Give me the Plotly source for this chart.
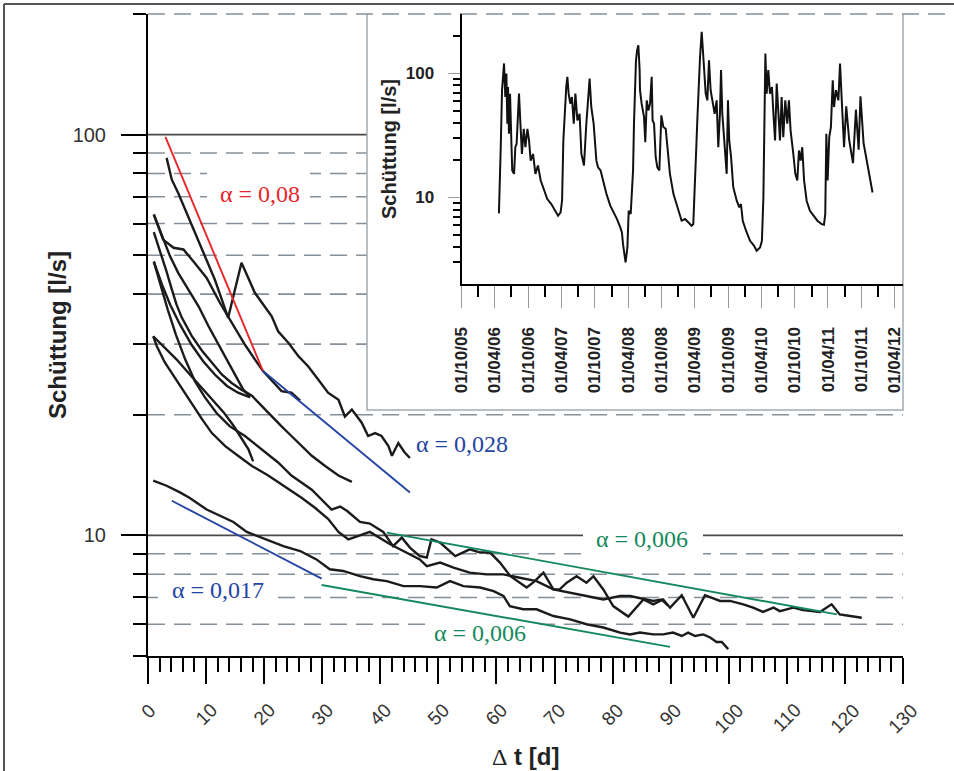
import math
import pandas as pd
import plotly.graph_objects as go

# ---------------- main panel: recession limbs (Δt [d], Schüttung [l/s]) ----------------
curve_a_dt = [3.2, 4.1, 5.2, 6.4, 8.1, 9.8, 11.5, 12.7, 13.8, 14.7, 16.1, 18.4, 19.6, 21.3, 22.4, 24.2,
              25.9, 27.6, 29.3, 31.0, 32.8, 33.9, 35.1, 36.8, 37.9, 39.1, 40.2, 41.4, 42.0, 43.1, 44.2, 45.1]
curve_a_q = [87.5, 77.2, 71.5, 65.0, 56.9, 49.7, 43.5, 38.8, 34.9, 39.5, 47.9, 40.3, 38.0, 35.2, 32.3, 30.2,
             28.0, 26.4, 24.5, 22.7, 21.8, 19.8, 20.6, 19.1, 17.7, 18.0, 17.7, 16.7, 15.8, 17.0, 16.1, 15.6]

curve_b_dt = [1.0, 2.1, 3.2, 4.1, 4.9, 5.8, 7.5, 9.3, 11.0, 12.7, 14.4, 16.1, 17.9, 19.6, 21.3, 23.0,
              24.7, 26.5, 28.2, 30.5, 32.8, 35.1]
curve_b_q = [57.1, 51.1, 45.5, 41.1, 37.7, 35.0, 31.5, 28.9, 27.0, 25.2, 24.0, 23.1, 22.3, 21.0, 19.8, 18.7,
             17.7, 16.7, 15.8, 14.9, 14.1, 13.6]

curve_c1_dt = [0.9, 1.5, 2.9, 5.2, 7.5, 9.3, 11.0, 13.3, 15.5, 17.9, 20.7, 23.6, 26.5, 28.8, 31.0, 32.8,
               34.5, 36.0, 38.2, 41.7, 44.0, 46.8, 48.0, 50.3, 52.6, 55.4, 58.3, 61.2, 64.0, 66.9, 69.8,
               72.7, 75.5, 78.4, 81.3, 83.0, 85.9, 87.0, 88.4, 89.5]
curve_c1_q = [31.4, 29.7, 27.0, 24.0, 21.4, 19.5, 18.0, 16.7, 15.8, 14.9, 14.1, 13.2, 12.4, 11.7, 11.0, 10.2,
              9.77, 9.94, 10.2, 9.50, 9.14, 8.71, 8.38, 8.55, 8.31, 8.07, 7.99, 7.99, 7.84, 7.69, 7.33,
              7.20, 7.06, 6.92, 7.06, 7.06, 6.92, 6.86, 6.92, 6.69]

curve_c2_dt = [1.0, 2.1, 3.4, 4.8, 6.4, 8.1, 9.8, 11.8, 14.1, 16.7, 19.6, 22.4, 24.7, 28.2, 31.6, 33.1,
               34.3, 36.5, 38.2, 40.5, 42.2, 43.7, 45.1, 46.8, 48.0, 48.8, 50.3, 52.9, 55.4, 57.2, 58.9,
               60.6, 62.4, 64.0, 65.2, 66.3, 68.1, 69.8, 70.9, 72.1, 73.8, 75.5, 76.7, 78.4, 80.1, 82.7,
               85.3, 87.0, 88.7, 89.9, 91.9, 93.9, 95.9, 98.5, 100.2, 102.5, 104.2, 105.9, 107.7, 108.8,
               111.1, 112.8, 114.5, 115.7, 117.7, 119.1, 120.9, 122.9]
curve_c2_q = [48.2, 42.3, 36.6, 31.7, 27.5, 24.2, 22.1, 20.2, 18.7, 17.7, 16.4, 15.2, 14.1, 13.0, 11.6, 11.8,
              11.5, 10.8, 10.7, 10.2, 9.40, 9.87, 9.32, 8.88, 8.80, 9.77, 9.59, 8.88, 9.23, 9.06, 9.06,
              8.55, 7.91, 7.62, 7.41, 7.62, 8.07, 7.33, 7.33, 7.62, 7.91, 7.62, 7.91, 7.33, 6.66, 6.27,
              6.92, 6.73, 6.92, 6.60, 7.09, 6.23, 7.09, 6.86, 6.86, 6.73, 6.60, 6.44, 6.60, 6.47,
              6.60, 6.51, 6.47, 6.44, 6.73, 6.35, 6.29, 6.23]

curve_d_dt = [0.9, 3.2, 5.5, 7.2, 10.1, 12.4, 14.7, 17.0, 20.4, 23.3, 26.2, 29.0, 31.3, 33.6, 36.5, 38.8,
              41.1, 44.0, 46.8, 49.7, 52.0, 54.3, 57.2, 59.5, 61.2, 62.3, 64.6, 66.9, 69.8, 72.7, 75.5,
              78.4, 81.3, 83.0, 84.7, 87.0, 88.7, 90.4, 91.9, 93.0, 94.2, 95.6, 96.8, 97.9, 98.8, 99.9]
curve_d_q = [13.7, 13.3, 12.8, 12.4, 11.6, 11.2, 10.8, 10.2, 9.77, 9.40, 9.14, 8.71, 8.23, 8.15, 7.91, 7.77,
             7.69, 7.47, 7.47, 7.41, 7.69, 7.47, 7.41, 7.26, 7.06, 6.66, 6.54, 6.54, 6.29, 6.17, 6.00,
             5.89, 5.72, 5.66, 5.72, 5.66, 5.66, 5.72, 5.61, 5.72, 5.61, 5.66, 5.56, 5.42, 5.42, 5.20]

curve_e_dt = [1.0, 2.6, 4.4, 6.1, 7.8, 10.1, 12.4, 14.6, 16.7, 18.4, 19.8, 23.0, 24.7, 26.2]
curve_e_q = [63.2, 54.7, 52.2, 51.7, 48.3, 43.9, 38.0, 33.6, 29.9, 27.5, 25.7, 22.9, 22.7, 21.7]

curve_f_dt = [1.0, 2.4, 3.8, 5.2, 6.9, 8.7, 10.4, 12.4, 14.5, 16.4, 17.6]
curve_f_q = [63.2, 55.8, 49.7, 45.2, 41.1, 37.3, 33.3, 29.4, 25.9, 23.1, 22.2]

curve_g_dt = [1.0, 2.4, 3.8, 5.5, 7.5, 9.5, 11.5, 13.6, 15.5, 17.6]
curve_g_q = [48.2, 42.3, 37.7, 33.6, 29.9, 27.2, 25.2, 23.6, 22.7, 22.1]

curve_h_dt = [0.9, 3.5, 4.9, 6.9, 9.0, 11.0, 13.0, 14.7, 16.1, 17.3, 18.1]
curve_h_q = [31.4, 28.8, 27.5, 25.5, 23.6, 21.8, 20.3, 18.8, 17.4, 16.4, 15.3]

# recession fits
fit_red_dt, fit_red_q = [3.0, 19.8], [98.7, 25.7]
fit_blue1_dt, fit_blue1_q = [19.8, 45.1], [25.7, 12.8]
fit_blue2_dt, fit_blue2_q = [4.1, 29.9], [12.2, 7.8]
fit_green1_dt, fit_green1_q = [41.1, 118.6], [10.16, 6.35]
fit_green2_dt, fit_green2_q = [29.9, 89.9], [7.52, 5.27]

fit_labels = ["α = 0,08", "α = 0,028", "α = 0,017", "α = 0,006", "α = 0,006"]
fit_label_dt = [19.2, 54.0, 12.0, 85.1, 57.2]
fit_label_q = [71.3, 16.9, 7.30, 9.77, 5.70]

x_ticks = list(range(0, 131, 10))
y_range = [5, 200]
y_major = [10, 100]
y_minor = [5, 6, 7, 8, 9, 20, 30, 40, 50, 60, 70, 80, 90, 200]
grid_dashed = [6, 7, 8, 9, 20, 30, 40, 50, 60, 70, 80, 90]
grid_solid = [10, 100]
grid_top = 200

# ---------------- inset: discharge time series (days since 01/10/2005, l/s) ----------------
inset_days = [205, 209, 215, 222, 227, 233, 240, 246, 251, 255, 260, 266, 273, 278, 288, 295, 302, 310, 315, 322,
              331, 341, 350, 361, 370, 379, 392, 405, 419, 434, 452, 470, 492, 514, 529, 543, 551, 558, 565, 574,
              580, 587, 596, 605, 615, 624, 635, 647, 657, 671, 684, 693, 702, 711, 724, 739, 748, 762, 775, 794,
              815, 834, 852, 870, 879, 885, 894, 899, 909, 916, 927, 934, 940, 945, 951, 956, 962, 969, 976,
              978, 987, 1000, 1007, 1015, 1024, 1033, 1042, 1047, 1055, 1064, 1073, 1084, 1095, 1106, 1119, 1130,
              1142, 1161, 1179, 1194, 1206, 1225, 1243, 1261, 1270, 1276, 1285, 1292, 1299, 1307, 1316, 1321,
              1329, 1338, 1347, 1356, 1365, 1376, 1387, 1398, 1407, 1416, 1422, 1429, 1438, 1446, 1453, 1460,
              1467, 1477, 1489, 1508, 1522, 1531, 1541, 1559, 1581, 1603, 1617, 1636, 1646, 1654, 1659, 1665,
              1672, 1681, 1690, 1701, 1709, 1718, 1727, 1736, 1745, 1754, 1763, 1774, 1785, 1794, 1803, 1818,
              1829, 1840, 1849, 1858, 1867, 1877, 1891, 1909, 1928, 1950, 1973, 1986, 1993, 1999, 2006, 2015,
              2024, 2034, 2041, 2052, 2065, 2074, 2087, 2096, 2108, 2124, 2145, 2161, 2176, 2186, 2203, 2217,
              2238, 2252]
inset_q = [7.45, 15.5, 25.4, 73, 103, 120, 64.4, 99.4, 39.3, 77.6, 32.6, 68.5, 28.8, 16.5, 15.5, 25.4, 27.1, 47.2, 68.5, 41.7,
           22.4, 35.7, 25.4, 35.7, 28.8, 19.8, 22.4, 15.5, 18.1, 13.7, 11.4, 9.72, 8.86, 7.82, 7.13, 7.59, 9.42, 28.8, 50.2, 77.6,
           93.5, 68.5, 56.9, 64.4, 39.3, 68.5, 41.7, 47.2, 22.4, 18.1, 39.3, 64.4, 90.6, 53.5, 39.3, 19.8, 17.5, 16.5, 13.7, 10.7,
           8.59, 7.59, 6.70, 5.74, 5.24, 4.21, 3.50, 3.00, 3.96, 7.82, 7.36, 10.7, 16.5, 39.3, 87.8, 127, 153, 168, 106,
           73, 56.9, 44.5, 27.9, 60.5, 50.2, 56.9, 93.5, 41.7, 39.3, 21.1, 17.5, 16.5, 45.8, 36.9, 35.7, 22.4,
           15.5, 10.7, 8.86, 7.59, 6.50, 6.70, 6.31, 5.92, 6.10, 9.42, 22.4, 41.7, 87.8, 136, 216, 163,
           113, 68.5, 60.5, 127, 73, 56.9, 47.2, 60.5, 25.4, 47.2, 106, 47.2, 32.6, 22.4, 15.5, 60.5,
           28.8, 21.1, 12.1, 9.42, 8.34, 8.86, 6.50, 5.40, 4.48, 4.08, 3.72, 3.96, 4.48, 10.0, 47.2, 144,
           68.5, 106, 68.5, 77.6, 47.2, 28.8, 82.6, 47.2, 28.8, 64.4, 30.6, 60.5, 39.3, 60.5, 34.7, 22.4,
           15.5, 13.7, 23.9, 19.8, 25.4, 13.7, 9.42, 7.82, 7.13, 6.50, 6.10, 6.04, 7.36, 32.6, 13.7, 30.6,
           36.9, 87.8, 53.5, 73, 60.5, 120, 47.2, 25.4, 54.2, 29.1, 18.9, 50.9, 24.2, 65.2, 27.4, 21.4,
           13.9, 10.96]
inset_start = "2005-10-01"
inset_end = "2012-05-16"
inset_major = [10, 100]
inset_minor = [3, 4, 5, 6, 7, 8, 9, 20, 30, 40, 50, 60, 70, 80, 90, 200]

inset_dates = pd.Timestamp(inset_start) + pd.to_timedelta(inset_days, unit="D")

# ---------------- geometry helpers (pixels -> paper) ----------------
W, H = 954, 771
ML, MR, MT, MB = 148, 51, 14, 115
PW, PH = W - ML - MR, H - MT - MB


def fx(px):
    return (px - ML) / PW


def fy(py):
    return (H - MB - py) / PH


def yfrac(v):
    lo, hi = math.log10(y_range[0]), math.log10(y_range[1])
    return (math.log10(v) - lo) / (hi - lo)


SANS = "Liberation Sans, Arial, sans-serif"
SERIF = "Liberation Serif, Times New Roman, serif"
BLACK = "#1b1b1b"
RED = "#e8262b"
BLUE = "#2544a3"
GREEN = "#15895c"

fig = go.Figure()

curves = [(curve_a_dt, curve_a_q), (curve_b_dt, curve_b_q), (curve_c1_dt, curve_c1_q),
          (curve_c2_dt, curve_c2_q), (curve_d_dt, curve_d_q), (curve_e_dt, curve_e_q),
          (curve_f_dt, curve_f_q), (curve_g_dt, curve_g_q), (curve_h_dt, curve_h_q)]
for dt, q in curves:
    fig.add_trace(go.Scatter(x=dt, y=q, mode="lines", line=dict(color=BLACK, width=2.4),
                             showlegend=False, hoverinfo="skip", xaxis="x", yaxis="y"))

fits = [(fit_red_dt, fit_red_q, RED), (fit_blue1_dt, fit_blue1_q, BLUE), (fit_blue2_dt, fit_blue2_q, BLUE),
        (fit_green1_dt, fit_green1_q, GREEN), (fit_green2_dt, fit_green2_q, GREEN)]
for dt, q, c in fits:
    fig.add_trace(go.Scatter(x=dt, y=q, mode="lines", line=dict(color=c, width=1.9),
                             showlegend=False, hoverinfo="skip", xaxis="x", yaxis="y"))

fig.add_trace(go.Scatter(x=inset_dates, y=inset_q, mode="lines", line=dict(color="#111111", width=2.0),
                         showlegend=False, hoverinfo="skip", xaxis="x2", yaxis="y2"))

# ---------------- shapes ----------------
DASHC = "#85909a"
shapes = []
for v in grid_dashed:
    shapes.append(dict(type="line", xref="paper", yref="paper", x0=0, x1=1, y0=yfrac(v), y1=yfrac(v),
                       line=dict(color=DASHC, width=1.6, dash="17px,9px"), layer="below"))
for v in grid_solid:
    shapes.append(dict(type="line", xref="paper", yref="paper", x0=0, x1=1, y0=yfrac(v), y1=yfrac(v),
                       line=dict(color="#4a4a4a", width=1.6), layer="below"))
# white masks behind the fit labels (below the data lines, above the grid)
label_masks = [(207, 310, 168, 207), (158, 277, 578, 604), (583, 703, 527, 557), (430, 540, 619, 652)]
for x0, x1, y0, y1 in label_masks:
    shapes.append(dict(type="rect", xref="paper", yref="paper", x0=fx(x0), x1=fx(x1), y0=fy(y1), y1=fy(y0),
                       fillcolor="white", line=dict(width=0), layer="below"))
# inset white box and frame
ix0, ix1, iy0, iy1 = fx(367), fx(903), fy(410), fy(14)
shapes.append(dict(type="rect", xref="paper", yref="paper", x0=ix0, x1=ix1, y0=iy0, y1=iy1,
                   fillcolor="white", line=dict(width=0), layer="below"))
shapes.append(dict(type="path", xref="paper", yref="paper",
                   path=f"M {ix0},{iy1} L {ix0},{iy0} L {ix1},{iy0} L {ix1},{iy1}",
                   line=dict(color="#a3aaae", width=1.5), layer="below"))
shapes.append(dict(type="line", xref="paper", yref="paper", x0=0, x1=fx(952), y0=yfrac(grid_top),
                   y1=yfrac(grid_top), line=dict(color=DASHC, width=1.6, dash="17px,9px"), layer="below"))
# outer frame (left and top)
shapes.append(dict(type="line", xref="paper", yref="paper", x0=fx(4), x1=fx(4), y0=fy(4), y1=fy(775),
                   line=dict(color="#555555", width=2), layer="below"))
shapes.append(dict(type="line", xref="paper", yref="paper", x0=fx(4), x1=fx(958), y0=fy(4), y1=fy(4),
                   line=dict(color="#555555", width=2), layer="below"))

# ---------------- annotations ----------------
ann = []
for v in x_ticks:
    ann.append(dict(x=v, xref="x", y=fy(697), yref="paper", text=str(v), showarrow=False, textangle=-45,
                    xanchor="center", yanchor="top", font=dict(family=SANS, size=19, color="#333333")))
label_colors = [RED, BLUE, BLUE, GREEN, GREEN]
for t, dx, q, c in zip(fit_labels, fit_label_dt, fit_label_q, label_colors):
    ann.append(dict(x=dx, xref="x", y=math.log10(q), yref="y", text=t, showarrow=False,
                    xanchor="center", yanchor="middle",
                    font=dict(family=SERIF, size=24, color=c)))
ann.append(dict(x=fx(57), y=0.5, xref="paper", yref="paper", text="<b>Schüttung [l/s]</b>", textangle=-90,
                showarrow=False, xanchor="center", yanchor="middle",
                font=dict(family=SANS, size=24, color="#222222")))
ann.append(dict(x=0.5, y=fy(756), xref="paper", yref="paper",
                text="<span style='font-family:Liberation Serif'>Δ</span> <b>t [d]</b>",
                showarrow=False, xanchor="center", yanchor="middle",
                font=dict(family=SANS, size=24, color="#222222")))
ann.append(dict(x=fx(389), y=fy(149), xref="paper", yref="paper", text="<b>Schüttung [l/s]</b>", textangle=-90,
                showarrow=False, xanchor="center", yanchor="middle",
                font=dict(family=SANS, size=20, color="#222222")))

fig.update_layout(
    width=W, height=H, autosize=False,
    margin=dict(l=ML, r=MR, t=MT, b=MB, pad=0),
    paper_bgcolor="white", plot_bgcolor="rgba(0,0,0,0)",
    showlegend=False,
    shapes=shapes, annotations=ann,
    xaxis=dict(domain=[0, 1], anchor="y", range=[0, 130], showline=True, linecolor="black", linewidth=2,
               ticks="outside", tickmode="linear", tick0=0, dtick=10, ticklen=26, tickwidth=2, tickcolor="black",
               showticklabels=False, showgrid=False, zeroline=False,
               minor=dict(tick0=0, dtick=2, ticks="outside", ticklen=14, tickwidth=1.6, tickcolor="black",
                          showgrid=False)),
    yaxis=dict(domain=[0, 1], anchor="x", type="log", range=[math.log10(y_range[0]), math.log10(y_range[1])],
               showline=True, linecolor="black", linewidth=2, ticks="outside", tickmode="array",
               tickvals=y_major, ticktext=[str(v) for v in y_major], ticklen=25, tickwidth=2, tickcolor="black",
               tickfont=dict(family=SANS, size=20, color="#333333"), ticklabelstandoff=11,
               showgrid=False, zeroline=False,
               minor=dict(tickmode="array", tickvals=y_minor, ticks="outside", ticklen=13, tickwidth=2,
                          tickcolor="black", showgrid=False)),
    xaxis2=dict(domain=[fx(461.5), fx(903)], anchor="y2", type="date", range=[inset_start, inset_end],
                tickmode="linear", tick0=inset_start, dtick="M6", tickformat="%d/%m/%y", tickangle=-90,
                ticks="outside", ticklen=22, tickwidth=1, tickcolor="#9a9a9a",
                tickfont=dict(family=SANS, size=17, color="#222222", weight="bold"), ticklabelstandoff=12,
                showline=True, linecolor="black", linewidth=2, showgrid=False, zeroline=False,
                minor=dict(tick0=inset_start, dtick="M3", ticks="outside", ticklen=11, tickwidth=2,
                           tickcolor="black", showgrid=False)),
    yaxis2=dict(domain=[fy(284.3), fy(14)], anchor="x2", type="log", range=[math.log10(2), math.log10(300)],
                tickmode="array", tickvals=inset_major, ticktext=[str(v) for v in inset_major],
                ticks="outside", ticklen=12, tickwidth=1, tickcolor="#9a9a9a",
                tickfont=dict(family=SANS, size=17, color="#222222", weight="bold"), ticklabelstandoff=10,
                showline=True, linecolor="black", linewidth=2, showgrid=False, zeroline=False,
                minor=dict(tickmode="array", tickvals=inset_minor, ticks="outside", ticklen=7, tickwidth=1.5,
                           tickcolor="black", showgrid=False)),
)

# remove the browser's default 8px page margin so the figure sits at the window origin
fig.write_html("out.html", config={"displayModeBar": False},
               post_script="document.body.style.margin='0px';document.body.style.padding='0px';")
